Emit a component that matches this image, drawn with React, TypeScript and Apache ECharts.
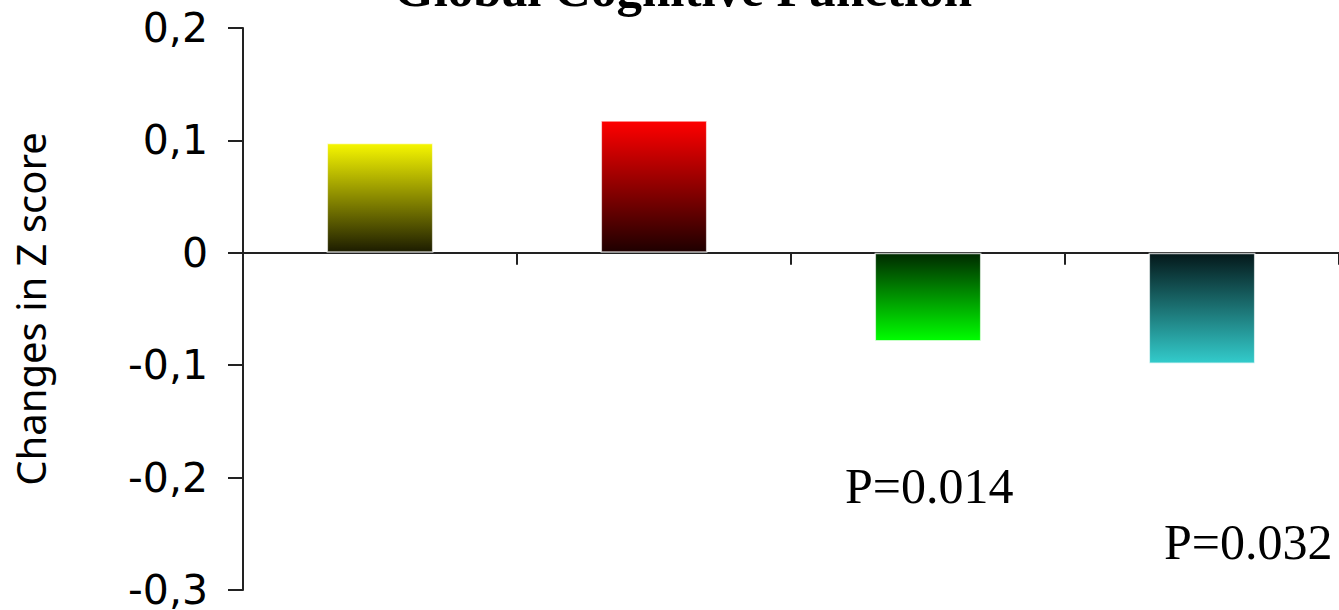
import React, { useEffect, useRef } from "react";
import * as echarts from "echarts";

const categories = ["Group A", "Group B", "Group C", "Group D"];
const values = [0.098, 0.118, -0.079, -0.099];
const gradientTops = ["#f7f700", "#ff0000", "#002a00", "#04181a"];
const gradientBottoms = ["#1c1c00", "#1e0000", "#00ff00", "#33cccc"];
const yTicks = { min: -0.3, max: 0.2, interval: 0.1 };
const titleText = "Global Cognitive Function";
const yAxisName = "Changes in Z score";
const pLabels = ["P=0.014", "P=0.032"];

export default function App() {
  const ref = useRef<HTMLDivElement>(null);
  useEffect(() => {
    if (!ref.current) return;
    const chart = echarts.init(ref.current, null, { renderer: "svg" });
    chart.setOption({
      animation: false,
      backgroundColor: "#ffffff",
      grid: {
        left: 243,
        right: 0,
        top: 28,
        bottom: 20,
        containLabel: false,
        outerBoundsMode: "none",
      },
      xAxis: {
        type: "category",
        data: categories,
        axisLine: { onZero: true, lineStyle: { color: "#222", width: 2 } },
        axisTick: { show: true, length: 12, lineStyle: { color: "#222", width: 2 } },
        axisLabel: { show: false },
        splitLine: { show: false },
      },
      yAxis: {
        type: "value",
        min: yTicks.min,
        max: yTicks.max,
        interval: yTicks.interval,
        name: yAxisName,
        nameLocation: "middle",
        nameGap: 193,
        nameRotate: 90,
        nameTextStyle: { fontFamily: "Noto Sans", fontSize: 40, color: "#000" },
        axisLine: { show: true, lineStyle: { color: "#222", width: 2 } },
        axisTick: { show: true, length: 15, lineStyle: { color: "#222", width: 2 } },
        axisLabel: {
          margin: 35,
          fontFamily: "DejaVu Sans",
          fontSize: 41,
          color: "#000",
          formatter: (v: number) => {
            const r = Math.round(v * 10) / 10;
            if (r === 0) return "0";
            return r.toFixed(1).replace(".", ",");
          },
        },
        splitLine: { show: false },
      },
      series: [
        {
          type: "bar",
          barWidth: "39%",
          data: values.map((v, i) => ({
            value: v,
            itemStyle: {
              color: new echarts.graphic.LinearGradient(0, 0, 0, 1, [
                { offset: 0, color: gradientTops[i] },
                { offset: 1, color: gradientBottoms[i] },
              ]),
              borderColor: "rgba(255,255,255,0.7)",
              borderWidth: 1.5,
            },
          })),
        },
      ],
      graphic: [
        {
          type: "text",
          x: 683,
          y: -37,
          style: {
            text: titleText,
            fontFamily: "Liberation Serif",
            fontWeight: "bold",
            fontSize: 51,
            fill: "#000",
            textAlign: "center",
          },
        },
        {
          type: "text",
          x: 845,
          y: 486,
          style: {
            text: pLabels[0],
            fontFamily: "Liberation Serif",
            fontSize: 50,
            fill: "#000",
            textVerticalAlign: "middle",
          },
        },
        {
          type: "text",
          x: 1164,
          y: 542,
          style: {
            text: pLabels[1],
            fontFamily: "Liberation Serif",
            fontSize: 50,
            fill: "#000",
            textVerticalAlign: "middle",
          },
        },
      ],
    });
    return () => chart.dispose();
  }, []);
  return (
    <div
      ref={ref}
      style={{ position: "fixed", left: 0, top: 0, width: 1339, height: 610 }}
    />
  );
}
